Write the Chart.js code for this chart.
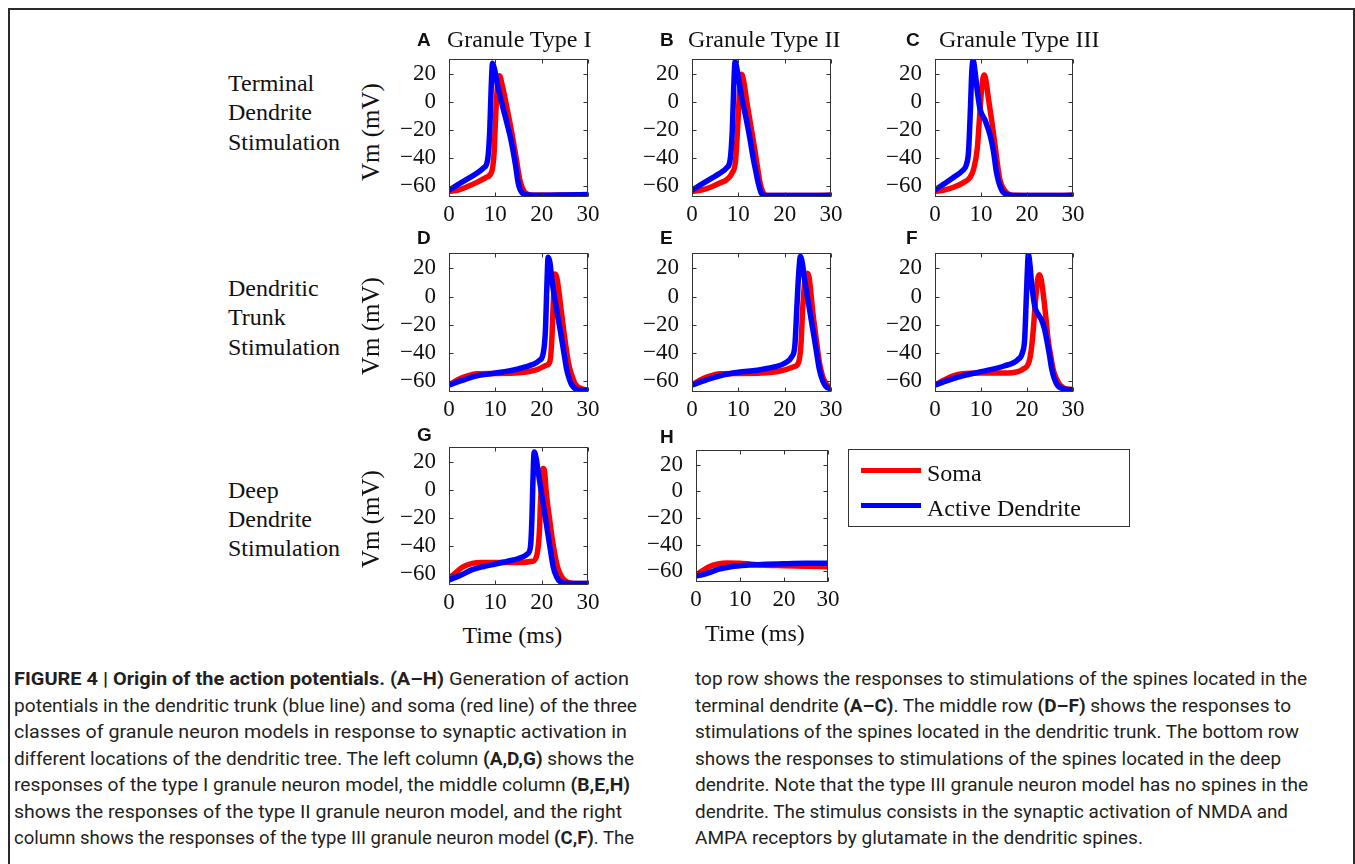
<!DOCTYPE html>
<html>
<head>
<meta charset="utf-8">
<script src="https://cdn.jsdelivr.net/npm/chart.js@4.4.1/dist/chart.umd.min.js"></script>
<style>
  html, body { margin: 0; padding: 0; background: #fff; }
  body { width: 1355px; height: 864px; position: relative; overflow: hidden; }
  .frame { position: absolute; left: 8px; top: 8px; width: 1343px; height: 900px; border: 2px solid #2a2a2a; }
  canvas { position: absolute; }
  .serif { position: absolute; font-family: "Liberation Serif", "Times New Roman", serif; font-size: 24px; line-height: 30px; color: #111; white-space: nowrap; }
  .letter { position: absolute; font-family: "Liberation Sans", Arial, sans-serif; font-weight: bold; font-size: 19px; line-height: 22px; color: #111; }
  .ylab { position: absolute; font-family: "Liberation Serif", serif; font-size: 25px; line-height: 30px; color: #111; white-space: nowrap; transform: translate(-50%, -50%) rotate(-90deg); }
  .legend { position: absolute; left: 848px; top: 449px; width: 280px; height: 76px; border: 1px solid #333; }
  .swatch { position: absolute; left: 12px; width: 60px; height: 5px; }
  .cap { position: absolute; font-family: Roboto, "Liberation Sans", sans-serif; font-size: 18px; line-height: 26.5px; color: #231f20; }
  .cap div { white-space: nowrap; transform-origin: left center; width: max-content; }
  .cap b { font-weight: 700; }
</style>
</head>
<body>
<div class="frame"></div>

<script>
// ---- данные ----
const xTicks = [0, 10, 20, 30];
const yTicks = [-60, -40, -20, 0, 20];

// A: Granule Type I, терминальный дендрит
const tA_blue = [0, 2, 4, 6, 7.5, 8.3, 8.8, 9.1, 9.4, 9.8, 10.5, 11.5, 12.5, 13.5, 14.3, 15, 15.8, 17, 20, 25, 30];
const vA_blue = [-63, -59, -55, -51, -47, -42, -20, 10, 28, 24, 12, -2, -15, -29, -44, -59, -65, -66.5, -66.7, -66.5, -66.2];
const tA_red = [0, 2, 4, 6, 8, 9.2, 9.7, 10.1, 10.5, 10.9, 11.5, 12.5, 13.5, 14.5, 15.3, 16.2, 17, 18, 22, 30];
const vA_red = [-64, -63, -60.5, -57.5, -54, -50, -38, -8, 14, 19, 12, -4, -21, -40, -56, -64, -66, -66.7, -66.7, -66.3];

// B: Granule Type II
const tB_blue = [0, 2, 4, 6, 7.5, 8.2, 8.7, 9.0, 9.3, 9.7, 10.7, 11.7, 12.5, 13.2, 13.8, 14.3, 15, 16, 20, 25, 30];
const vB_blue = [-63, -59, -55, -51, -47, -42, -20, 10, 29, 24, 4, -12, -26, -40, -50, -58, -65.5, -67, -67, -67, -66.8];
const tB_red = [0, 2, 4, 6, 7.5, 8.6, 9.4, 9.9, 10.3, 10.7, 11.1, 11.8, 12.7, 13.6, 14.2, 14.7, 15.5, 16.5, 20, 30];
const vB_red = [-64, -63, -61, -58, -55.5, -51, -42, -15, 10, 20, 16, 1, -17, -35, -48, -58, -65.5, -67, -67, -66.8];

// C: Granule Type III
const tC_blue = [0, 2, 4, 6, 6.8, 7.3, 7.7, 8.0, 8.3, 8.7, 9.2, 9.8, 10.9, 12, 12.7, 13.4, 14.5, 15.9, 18, 25, 30];
const vC_blue = [-63, -58.5, -54, -49, -45, -35, -5, 22, 30, 22, 8, -5, -13, -24, -35, -51, -63, -66.5, -67, -67, -66.8];
const tC_red = [0, 2, 4, 6, 7.6, 8.4, 9.2, 9.7, 10.2, 10.7, 11.1, 11.6, 12.4, 13.1, 13.6, 14.1, 15.6, 17, 22, 30];
const vC_red = [-64, -63, -61, -58, -54, -48, -33, -10, 12, 19.5, 15, 3, -15, -32, -45, -55.5, -65, -66.8, -67, -66.8];

// D: ствол дендрита, тип I
const tD_blue = [0, 3, 6, 9, 12, 15, 18, 19.5, 20.3, 20.8, 21.1, 21.4, 21.8, 22.2, 23, 24, 24.8, 25.4, 26, 26.5, 27.9, 30];
const vD_blue = [-63, -59.5, -56.5, -55, -53.5, -51.5, -48.5, -45.5, -41, -25, 5, 28, 24, 12, -5, -23.8, -40, -52, -59, -63, -66.5, -66.8];
const tD_red = [0, 2, 4, 6, 10, 15, 19, 21, 21.8, 22.2, 22.5, 22.9, 23.3, 24.3, 25, 25.8, 26.5, 27.2, 29, 30];
const vD_red = [-63, -59, -56.5, -55, -54.8, -54.3, -52, -49, -46, -30, -5, 16, 13, -12, -30, -47.5, -56, -62, -66, -66.5];

// E: тип II
const tE_blue = [0, 3, 6, 10, 14, 18, 20, 21.5, 22.2, 22.6, 23, 23.4, 23.8, 24.3, 25.2, 26.1, 26.8, 27.5, 28.2, 28.9, 30];
const vE_blue = [-63, -59.5, -56.5, -54, -52.5, -50, -47.5, -43, -35, -10, 15, 28.5, 24, 12, -6, -23.8, -38, -52, -60, -64, -66];
const tE_red = [0, 2, 4, 6, 10, 15, 19, 22, 23, 23.5, 23.9, 24.4, 24.9, 25.3, 26.1, 26.8, 27.5, 28.2, 28.9, 30];
const vE_red = [-63, -59, -56.5, -55, -54.8, -54.5, -53, -50, -47, -35, -8, 12, 16.5, 13, -12, -30, -47, -57, -62, -65];

// F: тип III
const tF_blue = [0, 3, 6, 10, 15, 18, 19, 19.5, 19.8, 20.1, 20.3, 20.6, 21, 21.7, 22.5, 23.2, 23.8, 24.3, 24.9, 25.4, 26.4, 28.3, 30];
const vF_blue = [-63, -59.5, -56.5, -53.5, -49.5, -45, -40, -30, -5, 20, 30, 24, 9.4, -7.3, -13, -17, -23, -31, -42, -52, -62, -66, -66.5];
const tF_red = [0, 2, 4, 6, 10, 15, 18, 19, 20.5, 21.2, 21.8, 22.3, 22.7, 23.1, 23.6, 24.1, 24.6, 25.2, 25.7, 26.4, 27.2, 29, 30];
const vF_red = [-63, -59.5, -56.5, -55, -54.5, -54.5, -53.5, -52, -46, -30, -5, 12, 15.5, 12, 0, -15, -31, -43, -52, -58.5, -63, -66, -66];

// G: глубокий дендрит, тип I
const tG_blue = [0, 2.5, 5, 7.5, 10, 12.5, 15, 17, 17.6, 17.9, 18.1, 18.4, 18.8, 19.3, 20.2, 21.1, 21.8, 22.5, 23.2, 24, 26, 30];
const vG_blue = [-64.4, -61, -57, -54.7, -53, -51, -49, -45.5, -40, -20, 5, 27.5, 23, 12, -7, -26, -41, -55, -62, -65.6, -67, -67];
const tG_red = [0, 1.5, 3, 5, 7, 10, 15, 18, 19, 19.5, 19.8, 20.3, 20.6, 21, 21.6, 22.2, 22.9, 23.6, 24.5, 25.4, 27.9, 30];
const vG_red = [-63.5, -59, -55, -52.5, -51.8, -51.8, -51.8, -51, -46, -30, -5, 15.5, 14, -2, -18, -33, -47, -57, -63, -65.6, -67, -67];

// H: тип II, без спайка
const tH_blue = [0, 1.5, 3, 5, 8, 12, 15, 20, 25, 30];
const vH_blue = [-63.5, -62.5, -61, -58.5, -56.5, -55.3, -54.8, -54.3, -54, -54];
const tH_red = [0, 1.5, 3, 5, 7, 10, 15, 20, 25, 30];
const vH_red = [-63, -59.5, -56.5, -54.5, -53.8, -54, -55.3, -55.8, -56.2, -56.5];

const titles = ['Granule Type I', 'Granule Type II', 'Granule Type III'];
const rowLabels = [['Terminal', 'Dendrite', 'Stimulation'], ['Dendritic', 'Trunk', 'Stimulation'], ['Deep', 'Dendrite', 'Stimulation']];
const legendLabels = ['Soma', 'Active Dendrite'];

const captionLeft = [
  ['<b>FIGURE 4 | Origin of the action potentials. (A–H)</b> Generation of action', 629],
  ['potentials in the dendritic trunk (blue line) and soma (red line) of the three', 637],
  ['classes of granule neuron models in response to synaptic activation in', 627],
  ['different locations of the dendritic tree. The left column <b>(A,D,G)</b> shows the', 634],
  ['responses of the type I granule neuron model, the middle column <b>(B,E,H)</b>', 630],
  ['shows the responses of the type II granule neuron model, and the right', 622],
  ['column shows the responses of the type III granule neuron model <b>(C,F)</b>. The', 634]
];
const captionRight = [
  ['top row shows the responses to stimulations of the spines located in the', 1307],
  ['terminal dendrite <b>(A–C)</b>. The middle row <b>(D–F)</b> shows the responses to', 1291],
  ['stimulations of the spines located in the dendritic trunk. The bottom row', 1299],
  ['shows the responses to stimulations of the spines located in the deep', 1281],
  ['dendrite. Note that the type III granule neuron model has no spines in the', 1308],
  ['dendrite. The stimulus consists in the synaptic activation of NMDA and', 1288],
  ['AMPA receptors by glutamate in the dendritic spines.', 1143]
];

// ---- раскладка панелей (left, top, width, height области графика) ----
const panels = [
  { id: 'A', rect: [449, 59, 139, 138], tb: tA_blue, vb: vA_blue, tr: tA_red, vr: vA_red },
  { id: 'B', rect: [692, 59, 139, 138], tb: tB_blue, vb: vB_blue, tr: tB_red, vr: vB_red },
  { id: 'C', rect: [935, 59, 138, 138], tb: tC_blue, vb: vC_blue, tr: tC_red, vr: vC_red },
  { id: 'D', rect: [449, 253, 139, 139], tb: tD_blue, vb: vD_blue, tr: tD_red, vr: vD_red },
  { id: 'E', rect: [692, 253, 139, 139], tb: tE_blue, vb: vE_blue, tr: tE_red, vr: vE_red },
  { id: 'F', rect: [935, 253, 138, 139], tb: tF_blue, vb: vF_blue, tr: tF_red, vr: vF_red },
  { id: 'G', rect: [449, 447, 139, 138], tb: tG_blue, vb: vG_blue, tr: tG_red, vr: vG_red },
  { id: 'H', rect: [696, 450, 132, 132], tb: tH_blue, vb: vH_blue, tr: tH_red, vr: vH_red }
];

const PAD_L = 62, PAD_T = 32, PAD_R = 26, PAD_B = 34;
const tickFont = { family: 'Liberation Serif', size: 23 };

// рамка + внутренние засечки как в matlab
const boxPlugin = {
  id: 'box',
  afterDraw(chart) {
    const { ctx, chartArea: a, scales } = chart;
    const l = Math.round(a.left) + 0.5, t = Math.round(a.top) + 0.5;
    const r = Math.round(a.right) - 0.5, b = Math.round(a.bottom) - 0.5;
    ctx.save();
    ctx.strokeStyle = '#333';
    ctx.lineWidth = 1;
    ctx.strokeRect(l, t, r - l, b - t);
    ctx.beginPath();
    scales.x.ticks.forEach(tk => {
      const px = Math.round(scales.x.getPixelForValue(tk.value)) + 0.5;
      ctx.moveTo(px, b); ctx.lineTo(px, b - 4);
      ctx.moveTo(px, t); ctx.lineTo(px, t + 4);
    });
    scales.y.ticks.forEach(tk => {
      const py = Math.round(scales.y.getPixelForValue(tk.value)) + 0.5;
      ctx.moveTo(l, py); ctx.lineTo(l + 4, py);
      ctx.moveTo(r, py); ctx.lineTo(r - 4, py);
    });
    ctx.stroke();
    ctx.restore();
  }
};

const toPts = (t, v) => t.map((x, i) => ({ x: x, y: v[i] }));

panels.forEach(p => {
  const [L, T, W, H] = p.rect;
  const cv = document.createElement('canvas');
  cv.width = W + PAD_L + PAD_R;
  cv.height = H + PAD_T + PAD_B;
  cv.style.left = (L - PAD_L) + 'px';
  cv.style.top = (T - PAD_T) + 'px';
  document.body.appendChild(cv);

  new Chart(cv.getContext('2d'), {
    type: 'line',
    data: { datasets: [
      { data: toPts(p.tb, p.vb), borderColor: '#0000ff', borderWidth: 5.5, pointRadius: 0, cubicInterpolationMode: 'monotone', clip: 0 },
      { data: toPts(p.tr, p.vr), borderColor: '#ff0000', borderWidth: 5.5, pointRadius: 0, cubicInterpolationMode: 'monotone', clip: 0 }
    ]},
    options: {
      animation: false, responsive: false, events: [],
      layout: { padding: { left: 0, top: PAD_T, right: PAD_R, bottom: 0 } },
      plugins: { legend: { display: false }, tooltip: { enabled: false } },
      scales: {
        x: {
          type: 'linear', min: 0, max: 30,
          afterBuildTicks: s => { s.ticks = xTicks.map(v => ({ value: v })); },
          afterFit: s => { s.height = PAD_B; },
          grid: { display: false, drawTicks: false }, border: { display: false },
          ticks: { padding: 4, color: '#111', font: tickFont, maxRotation: 0, autoSkip: false }
        },
        y: {
          type: 'linear', min: -68, max: 31,
          afterBuildTicks: s => { s.ticks = yTicks.map(v => ({ value: v })); },
          afterFit: s => { s.width = PAD_L; },
          grid: { display: false, drawTicks: false }, border: { display: false },
          ticks: { padding: 13, color: '#111', font: tickFont, autoSkip: false,
                   callback: v => (v < 0 ? '\u2212' + Math.abs(v) : String(v)) }
        }
      }
    },
    plugins: [boxPlugin]
  });
});

// ---- тексты ----
function addDiv(cls, html, left, top) {
  const d = document.createElement('div');
  d.className = cls;
  d.innerHTML = html;
  d.style.left = left + 'px';
  d.style.top = top + 'px';
  document.body.appendChild(d);
  return d;
}
// serif 24px, lh 30: baseline = top + 23
const serifAt = (txt, x, base) => addDiv('serif', txt, x, base - 23);

// буквы панелей
[['A', 417, 29], ['B', 660, 29], ['C', 906, 29],
 ['D', 417, 227], ['E', 660, 227], ['F', 906, 227],
 ['G', 417, 424], ['H', 660, 426]].forEach(([s, x, y]) => addDiv('letter', s, x, y));

serifAt(titles[0], 447, 47);
serifAt(titles[1], 688, 47);
serifAt(titles[2], 939, 47);

const rowBases = [[91, 120, 149.5], [296, 325, 354.5], [498, 527, 556]];
rowLabels.forEach((lines, r) => lines.forEach((s, i) => serifAt(s, 228, rowBases[r][i])));

[[371, 131.5], [371, 326], [371, 518.5]].forEach(([x, y]) => addDiv('ylab', 'Vm (mV)', x, y));

const tg = serifAt('Time (ms)', 0, 643);
tg.style.left = (512.5 - tg.offsetWidth / 2) + 'px';
const th = serifAt('Time (ms)', 0, 641);
th.style.left = (755 - th.offsetWidth / 2) + 'px';

// легенда
const lg = document.createElement('div');
lg.className = 'legend';
document.body.appendChild(lg);
[['#ff0000', 470], ['#0000ff', 505]].forEach(([c, y]) => {
  const s = document.createElement('div');
  s.className = 'swatch';
  s.style.background = c;
  s.style.top = (y - 449 - 3.5) + 'px';
  lg.appendChild(s);
});
serifAt(legendLabels[0], 927, 481);
serifAt(legendLabels[1], 927, 516);

// подпись
function caption(lines, left) {
  const box = addDiv('cap', '', left, 666);
  lines.forEach(([html, right]) => {
    const d = document.createElement('div');
    d.innerHTML = html;
    box.appendChild(d);
    const w = d.getBoundingClientRect().width;
    d.style.transform = 'scaleX(' + ((right - left) / w).toFixed(4) + ')';
  });
}
caption(captionLeft, 14);
caption(captionRight, 695);
</script>
</body>
</html>
